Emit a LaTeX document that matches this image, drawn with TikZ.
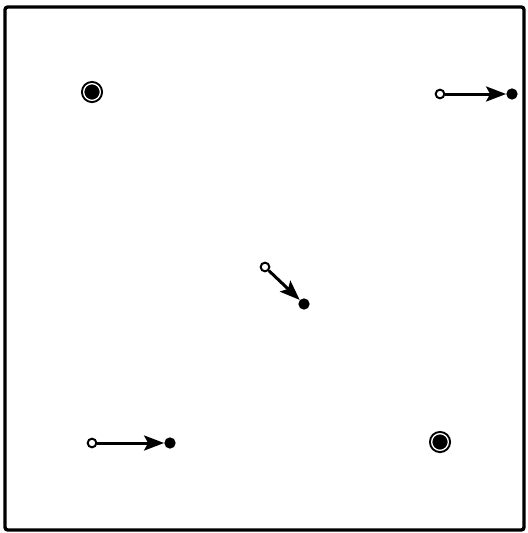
\documentclass[tikz,border=0pt]{standalone}
\usetikzlibrary{arrows.meta}
\begin{document}
\begin{tikzpicture}[
    x=0.03cm, y=-0.03cm,
    frame/.style={draw, line width=0.1cm, rounded corners=0.08cm},
    start/.style={circle, draw, fill=white, line width=0.06cm, inner sep=0pt, minimum size=0.26cm},
    stop/.style={circle, fill=black, inner sep=0pt, minimum size=0.34cm},
    rest/.style={circle, draw, fill=black, line width=0.06cm, double=white,
      double distance=0.04cm, inner sep=0pt, minimum size=0.5cm},
    mv/.style={line width=0.09cm, -{Stealth[length=0.6cm, width=0.45cm, inset=0.12cm]}}
  ]
    \useasboundingbox (0,0) rectangle (527,533);
    \draw[frame] (5,7) rectangle (524,530);
    % points that stay put
    \node[rest] (r1) at (92,92) {};
    \node[rest] (r2) at (440,442) {};
    % points that move
    \node[start] (a1) at (440,94) {};
    \node[stop]  (b1) at (512,94) {};
    \node[start] (a2) at (265,267) {};
    \node[stop]  (b2) at (304,304) {};
    \node[start] (a3) at (92,443) {};
    \node[stop]  (b3) at (170,443) {};
    \draw[mv] (a1) -- (b1);
    \draw[mv] (a2) -- (b2);
    \draw[mv] (a3) -- (b3);
  \end{tikzpicture}
\end{document}
